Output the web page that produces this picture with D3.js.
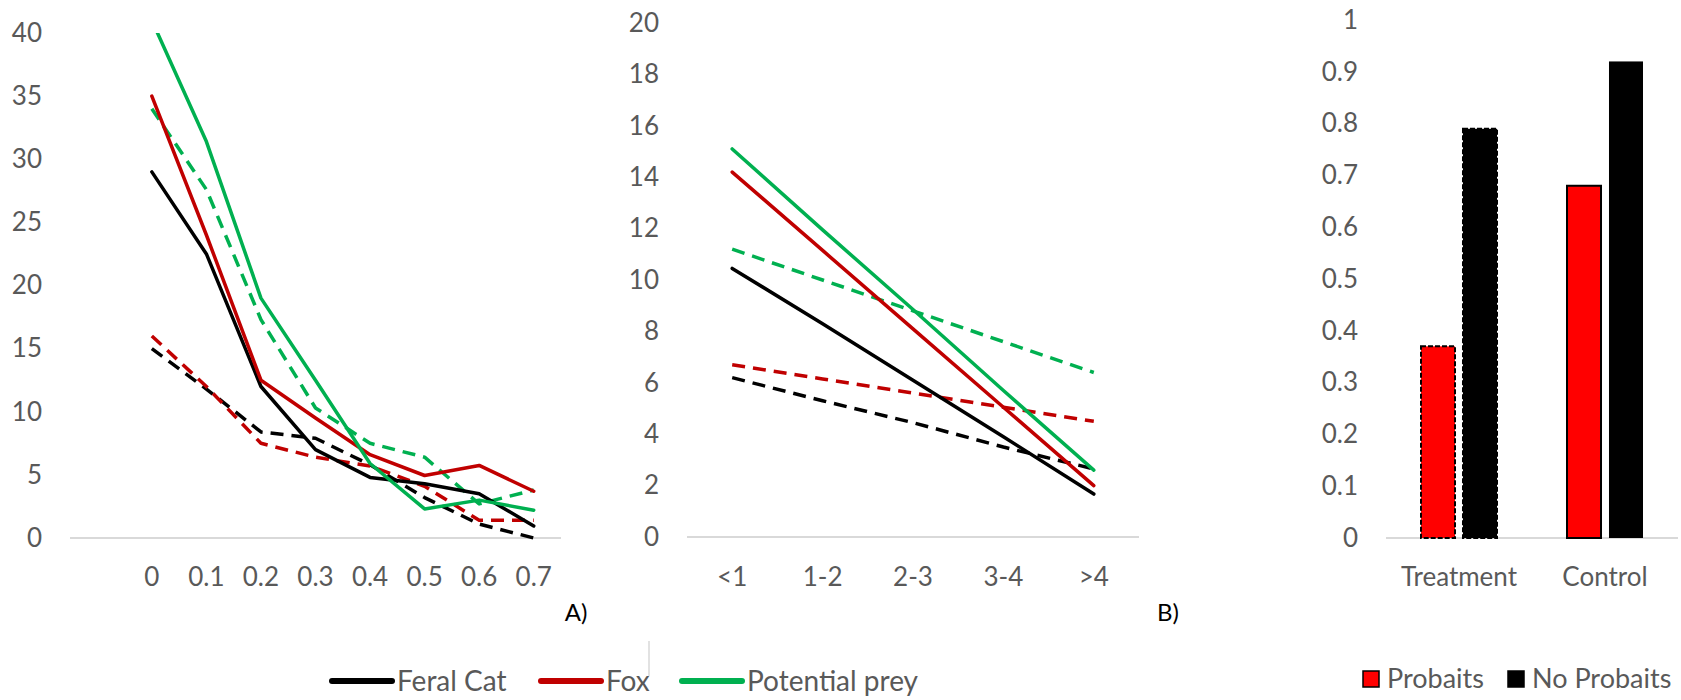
<!DOCTYPE html>
<html>
<head>
<meta charset="utf-8">
<script src="https://cdn.jsdelivr.net/npm/d3@7"></script>
<style>
  html, body { margin: 0; padding: 0; background: #fff; }
  svg text { font-family: Lato, "Open Sans", sans-serif; fill: #595959; }
</style>
</head>
<body>
<div id="chart"></div>
<script>

/*
 * Data.
 */

// Panel A: ratio categories.
var ratioLabels = ['0', '0.1', '0.2', '0.3', '0.4', '0.5', '0.6', '0.7'];
var catSolidA  = [29, 22.5, 12, 7, 4.8, 4.3, 3.5, 0.95];
var foxSolidA  = [35, 24, 12.5, 9.5, 6.6, 4.95, 5.75, 3.7];
var preySolidA = [41, 31.4, 19, 12.5, 5.9, 2.3, 3.0, 2.2];
var catDashA   = [15, 11.8, 8.4, 7.9, 5.8, 3.2, 1.1, 0];
var foxDashA   = [16, 12, 7.5, 6.4, 5.7, 4.1, 1.4, 1.4];
var preyDashA  = [34, 27.6, 17.3, 10.3, 7.5, 6.4, 2.7, 3.8];
var ticksA = [0, 5, 10, 15, 20, 25, 30, 35, 40];

// Panel B: age categories.
var ageLabels  = ['<1', '1-2', '2-3', '3-4', '>4'];
var catSolidB  = [10.45, 8.3, 6.1, 3.9, 1.67];
var foxSolidB  = [14.2, 11.15, 8.1, 5.05, 2.0];
var preySolidB = [15.1, 11.95, 8.85, 5.7, 2.6];
var catDashB   = [6.2, 5.3, 4.45, 3.5, 2.65];
var foxDashB   = [6.7, 6.15, 5.6, 5.05, 4.5];
var preyDashB  = [11.2, 10.0, 8.8, 7.6, 6.4];
var ticksB = [0, 2, 4, 6, 8, 10, 12, 14, 16, 18, 20];

// Panel C: bars.
var groups = ['Treatment', 'Control'];
var probaits = [0.37, 0.68];
var noProbaits = [0.79, 0.92];
var ticksC = [0, 0.1, 0.2, 0.3, 0.4, 0.5, 0.6, 0.7, 0.8, 0.9, 1];

// Legend entries.
var speciesNames = ['Feral Cat', 'Fox', 'Potential prey'];
var baitNames = ['Probaits', 'No Probaits'];

/*
 * Styles.
 */
var BLACK = '#000000', RED = '#C00000', GREEN = '#00B050', BRIGHT_RED = '#FF0000';
var AXIS = '#D9D9D9';

var svg = d3.select('#chart').append('svg')
  .attr('width', 1681)
  .attr('height', 700);

/*
 * Draw the y tick labels and the category baseline.
 *
 * @return void.
 */
function drawAxes(x, y, ticks, fmt, labels) {

  var r = x.range();

  // Y labels.
  svg.append('g')
    .attr('transform', 'translate(' + r[0] + ',0)')
    .call(d3.axisLeft(y).tickValues(ticks).tickSize(0).tickPadding(28).tickFormat(fmt))
    .call(function(g) { g.select('.domain').remove(); })
    .selectAll('text')
    .style('font-size', '26px')
    .style('fill', '#595959');

  // Baseline.
  svg.append('line')
    .attr('x1', r[0]).attr('x2', r[1])
    .attr('y1', y(0)).attr('y2', y(0))
    .attr('stroke', AXIS).attr('stroke-width', 2);

  // X labels.
  svg.append('g').selectAll('text')
    .data(labels)
    .join('text')
    .attr('x', function(d) { return x(d) + x.bandwidth() / 2; })
    .attr('y', 577)
    .attr('dy', '0.35em')
    .attr('text-anchor', 'middle')
    .style('font-size', '26px')
    .text(function(d) { return d; });
}

/*
 * Draw a line series over a band scale.
 *
 * @return void.
 */
function drawLine(x, y, labels, values, color, dashed, clipId) {
  var line = d3.line()
    .x(function(d, i) { return x(labels[i]) + x.bandwidth() / 2; })
    .y(function(d) { return y(d); });

  svg.append('path')
    .datum(values)
    .attr('d', line)
    .attr('fill', 'none')
    .attr('stroke', color)
    .attr('stroke-width', 3.5)
    .attr('stroke-linejoin', 'round')
    .attr('stroke-linecap', dashed ? 'butt' : 'round')
    .attr('stroke-dasharray', dashed ? '13,8' : null)
    .attr('clip-path', clipId ? 'url(#' + clipId + ')' : null);
}

// Panel A.
var xA = d3.scaleBand().domain([''].concat(ratioLabels)).range([70, 561]);
var yA = d3.scaleLinear().domain([0, 40]).range([538, 33]);
drawAxes(xA, yA, ticksA, d3.format('d'), ratioLabels);

svg.append('clipPath').attr('id', 'clipA')
  .append('rect')
  .attr('x', xA.range()[0]).attr('y', yA(40))
  .attr('width', xA.range()[1] - xA.range()[0])
  .attr('height', yA(0) - yA(40) + 10);

drawLine(xA, yA, ratioLabels, catDashA, BLACK, true, 'clipA');
drawLine(xA, yA, ratioLabels, foxDashA, RED, true, 'clipA');
drawLine(xA, yA, ratioLabels, preyDashA, GREEN, true, 'clipA');
drawLine(xA, yA, ratioLabels, catSolidA, BLACK, false, 'clipA');
drawLine(xA, yA, ratioLabels, foxSolidA, RED, false, 'clipA');
drawLine(xA, yA, ratioLabels, preySolidA, GREEN, false, 'clipA');

// Panel B.
var xB = d3.scaleBand().domain(ageLabels).range([687, 1139]);
var yB = d3.scaleLinear().domain([0, 20]).range([537, 23]);
drawAxes(xB, yB, ticksB, d3.format('d'), ageLabels);

drawLine(xB, yB, ageLabels, catDashB, BLACK, true);
drawLine(xB, yB, ageLabels, foxDashB, RED, true);
drawLine(xB, yB, ageLabels, preyDashB, GREEN, true);
drawLine(xB, yB, ageLabels, catSolidB, BLACK, false);
drawLine(xB, yB, ageLabels, foxSolidB, RED, false);
drawLine(xB, yB, ageLabels, preySolidB, GREEN, false);

// Panel C.
var xC = d3.scaleBand().domain(groups).range([1386, 1678]);
var yC = d3.scaleLinear().domain([0, 1]).range([538, 20]);
var xInner = d3.scaleBand().domain(baitNames).range([0, 76]).paddingInner(0.19);
drawAxes(xC, yC, ticksC, function(d) { return d === 0 || d === 1 ? String(d) : d3.format('.1f')(d); }, groups);

var barRows = [];
groups.forEach(function(g, i) {
  barRows.push({ group: g, bait: baitNames[0], value: probaits[i], fill: BRIGHT_RED });
  barRows.push({ group: g, bait: baitNames[1], value: noProbaits[i], fill: BLACK });
});

svg.append('g').selectAll('rect')
  .data(barRows)
  .join('rect')
  .attr('x', function(d) { return xC(d.group) + xC.bandwidth() / 2 - 38 + xInner(d.bait); })
  .attr('y', function(d) { return yC(d.value); })
  .attr('width', xInner.bandwidth())
  .attr('height', function(d) { return yC(0) - yC(d.value); })
  .attr('fill', function(d) { return d.fill; })
  .attr('stroke', function(d) { return d.group === 'Control' && d.bait === baitNames[1] ? 'none' : BLACK; })
  .attr('stroke-width', 2)
  .attr('stroke-dasharray', function(d) { return d.group === 'Treatment' ? '5,2' : null; });

// Panel letters.
svg.append('text').attr('x', 576).attr('y', 613).attr('dy', '0.35em')
  .attr('text-anchor', 'middle').style('font-size', '24px').style('fill', '#000').text('A)');
svg.append('text').attr('x', 1168).attr('y', 613).attr('dy', '0.35em')
  .attr('text-anchor', 'middle').style('font-size', '24px').style('fill', '#000').text('B)');

// Species legend.
var speciesColors = [BLACK, RED, GREEN];
var speciesX = [332, 541, 682];
var legendA = svg.append('g').selectAll('g')
  .data(speciesNames)
  .join('g')
  .attr('transform', function(d, i) { return 'translate(' + speciesX[i] + ',681)'; });

legendA.append('line')
  .attr('x1', 0).attr('x2', 60)
  .attr('stroke', function(d, i) { return speciesColors[i]; })
  .attr('stroke-width', 6)
  .attr('stroke-linecap', 'round');

legendA.append('text')
  .attr('x', 65).attr('dy', '0.35em')
  .style('font-size', '28px')
  .text(function(d) { return d; });

// Stray divider near the legend.
svg.append('line')
  .attr('x1', 649).attr('x2', 649).attr('y1', 641).attr('y2', 676)
  .attr('stroke', AXIS).attr('stroke-width', 1.5);

// Bait legend.
var baitX = [1363, 1508];
var baitFill = [BRIGHT_RED, BLACK];
var legendC = svg.append('g').selectAll('g')
  .data(baitNames)
  .join('g')
  .attr('transform', function(d, i) { return 'translate(' + baitX[i] + ',679)'; });

legendC.append('rect')
  .attr('x', 0).attr('y', -8).attr('width', 16).attr('height', 16)
  .attr('fill', function(d, i) { return baitFill[i]; })
  .attr('stroke', BLACK).attr('stroke-width', 1.5);

legendC.append('text')
  .attr('x', 24).attr('dy', '0.35em')
  .style('font-size', '27px')
  .text(function(d) { return d; });

</script>
</body>
</html>
